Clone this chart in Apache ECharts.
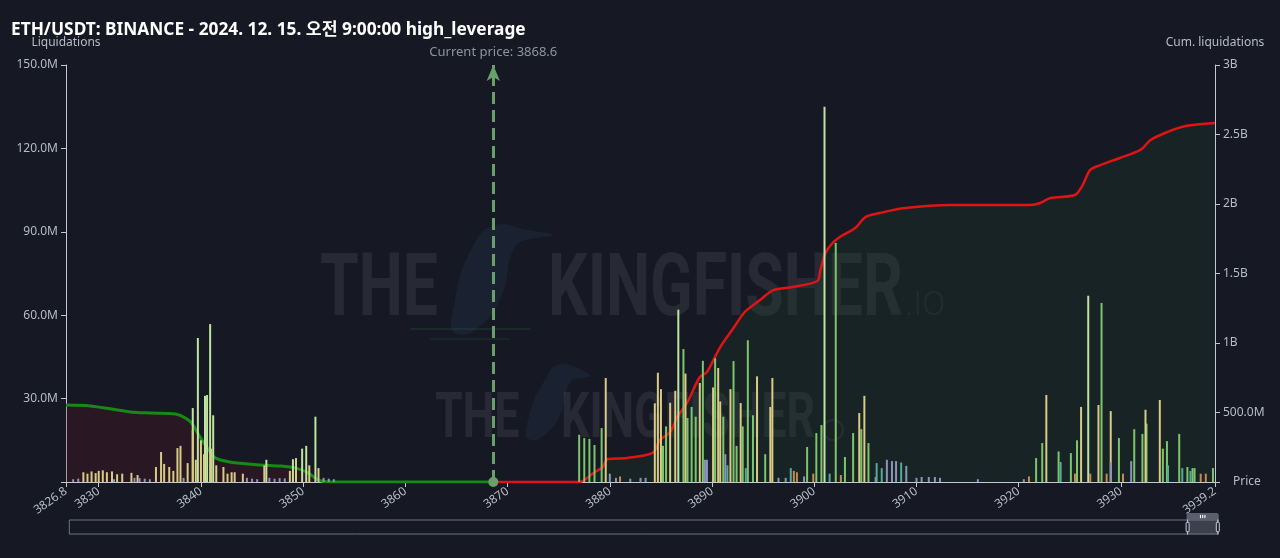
<!DOCTYPE html>
<html>
<head>
<meta charset="utf-8">
<style>
html,body{margin:0;padding:0;background:#161924;}
#chart{width:1280px;height:558px;}
</style>
<script src="https://cdn.jsdelivr.net/npm/echarts@6/dist/echarts.min.js"></script>
</head>
<body>
<div id="chart"></div>
<script>
// ---- data (prices in USDT, liquidations in millions USD) ----
const titleText = 'ETH/USDT: BINANCE - 2024. 12. 15. 오전 9:00:00 high_leverage';
const currentPrice = 3868.6;
const priceMin = 3826.8;
const priceMax = 3939.2;

const barsLightGreen = [
  [3839.2,26.6],[3839.7,51.8],[3840.4,31],[3840.6,31.3],[3840.9,56.8],[3841.2,24],
  [3846.4,8],[3849.0,8.2],[3849.9,12],[3850.3,13],[3851.2,23.5],
  [3886.7,62],[3901.0,135],[3926.8,67]
];
const barsGreen = [
  [3877.0,17],[3877.5,15.8],[3878.0,15.5],[3878.5,13.3],[3879.2,19.4],[3885.2,13],[3885.5,20],
  [3887.2,47.8],[3887.6,23],[3888.0,27],[3888.4,23.5],[3889.1,43.6],[3890.3,44.5],[3891.1,23.5],
  [3892.1,43.5],[3892.4,13],[3893.0,20],[3893.5,51],[3894.0,24],[3895.2,10],[3899.3,12.6],
  [3900.2,17.6],[3900.7,20.5],[3902.1,86],[3903.0,9],[3903.8,17.6],[3904.6,19],[3905.3,14],
  [3921.7,8.6],[3922.3,14],[3923.9,11],[3925.1,10.4],[3925.7,15],[3928.1,64.4],[3929.8,15.8],
  [3931.3,19],[3932.1,17.3],[3932.5,21],[3934.1,12],[3934.5,14.7],[3935.7,17.3],[3936.5,5.4],
  [3937.0,5],[3937.2,5],[3939.0,5]
];
const barsYellow = [
  [3828.5,3.5],[3828.9,3],[3829.3,3.8],[3829.7,3.2],[3830.0,4],[3830.4,4.2],[3830.8,3.5],
  [3831.3,3.8],[3831.8,2.8],[3832.3,3],[3833.2,3.3],[3833.8,2.5],[3835.6,5.4],[3836.1,10.8],
  [3836.4,6.5],[3836.9,5.4],[3837.3,4],[3837.7,12.2],[3838.0,13],[3838.7,6.8],[3839.2,18.7],
  [3839.5,8],[3840.0,15],[3840.3,10],[3841.0,12],[3841.5,6],[3842.2,5.4],[3842.6,3],[3843.0,3.5],
  [3843.3,3.5],[3844.1,3],[3846.2,6],[3848.7,4],[3849.3,8.6],[3850.6,6],[3851.5,5],
  [3879.6,37.4],[3884.4,28.3],[3884.7,39.3],[3885.0,33.4],[3885.9,28.5],[3886.4,32.8],[3887.4,39],
  [3888.8,35.6],[3890.1,34],[3890.6,41],[3890.8,29],[3891.8,33.4],[3892.8,28.4],[3894.4,38],
  [3895.7,27],[3895.9,37.4],[3904.4,24.8],[3904.9,31],[3922.7,31.3],[3926.1,27],[3927.8,27.7],
  [3929.0,25.5],[3932.4,26],[3933.8,29.5]
];
const barsOrange = [
  [3881.0,2],[3898.0,4],[3898.3,3.5],[3899.9,3],[3902.6,2.5],[3921.0,2],[3925.5,3],[3927.0,3],
  [3928.6,3],[3930.2,3],[3937.8,3],[3938.3,3]
];
const barsBlueGray = [
  [3827.5,1],[3828.0,1.2],[3831.5,1],[3833.5,1.5],[3834.0,1.4],[3834.5,1.2],[3835.0,1],[3838.3,1.5],
  [3844.5,1.5],[3845.0,1.2],[3845.5,1],[3846.7,1.5],[3847.2,1.2],[3847.7,1.4],[3848.2,1.3],
  [3852.0,1.5],[3852.5,1.2],[3853.0,1],[3880.0,3],[3880.6,1.5],[3882.0,1.2],[3883.0,1.5],
  [3883.5,1.5],[3889.3,8],[3889.5,8],[3891.3,10],[3896.5,1.5],[3897.2,1.5],[3899.0,2],[3906.0,1.8],
  [3907.1,8],[3907.6,7.5],[3908.0,7.5],[3909.0,5.8],[3910.0,1.5],[3910.5,1.8],[3911.2,1.8],
  [3911.8,1.8],[3912.3,1.5],[3916.0,1],[3920.5,1],[3929.0,7],[3931.0,7.5]
];
const barsTeal = [
  [3891.5,6],[3893.3,5],[3897.7,5],[3901.5,3],[3906.1,6.8],[3906.6,5],[3908.5,7],[3924.1,7.2],
  [3934.6,6],[3936.0,5],[3936.8,4]
];
// cumulative liquidations (millions) below and above current price
const cumShort = [
  [3826.8,554],[3829.2,547],[3833.1,504],[3835.0,496],[3837.5,489],[3838.9,439],[3839.4,388],
  [3839.9,324],[3840.9,216],[3841.4,173],[3842.8,144],[3845.8,122],[3847.7,115],[3849.3,100],
  [3850.5,65],[3851.5,14],[3852.6,0],[3868.6,0]
];
const cumLong = [
  [3868.6,0],[3877.0,0],[3878.4,65],[3879.3,108],[3879.8,165],[3881.7,173],[3884.2,209],
  [3884.9,302],[3885.9,360],[3886.6,468],[3887.6,576],[3888.8,755],[3889.5,791],[3890.8,971],
  [3892.1,1108],[3893.2,1223],[3894.7,1309],[3896.0,1381],[3897.9,1403],[3900.3,1446],
  [3900.6,1525],[3901.1,1647],[3901.7,1712],[3902.5,1762],[3904.0,1827],[3905.0,1906],
  [3906.4,1935],[3908.9,1971],[3913.3,1993],[3921.1,1993],[3922.1,2007],[3923.1,2043],
  [3925.5,2065],[3926.2,2129],[3927.0,2245],[3928.0,2280],[3929.9,2331],[3931.9,2389],
  [3932.9,2460],[3934.3,2511],[3936.3,2561],[3939.2,2583]
];

const chart = echarts.init(document.getElementById('chart'));
const axisColor = '#c3c7cf';
const labelColor = '#b7bbc4';
const font = "'Noto Sans', 'Noto Sans CJK KR', sans-serif";

function barSeries(name, data, color) {
  return {
    name, type: 'bar', data, xAxisIndex: 0, yAxisIndex: 0,
    barWidth: 2, barGap: '-100%', itemStyle: { color }, silent: true, z: 3
  };
}
const fmtLeft = v => v === 0 ? '' : v.toFixed(1) + 'M';
const fmtRight = v => v === 0 ? '' : (v >= 1000 ? (v / 1000) + 'B' : v.toFixed(1) + 'M');
const fmtPrice = v => String(Math.round(v * 10) / 10);

const wm = 'rgba(255,255,255,0.075)';
const bird = 'rgba(45,85,120,0.17)';
const option = {
  backgroundColor: '#161924',
  animation: false,
  textStyle: { fontFamily: font },
  title: {
    text: titleText, left: 6, top: 16,
    textStyle: { color: '#ffffff', fontSize: 17.3, fontWeight: 'bold', fontFamily: font }
  },
  grid: { left: 66, right: 65, top: 65, bottom: 76 },
  graphic: [
    { type: 'polygon', z: 0, silent: true,
      shape: { points: [[470,252],[484,230],[503,224],[522,229],[553,235],[520,242],[510,258],[505,286],[492,314],[468,334],[452,331],[455,300],[461,272]], smooth: 0.3 },
      style: { fill: bird } },
    { type: 'rect', z: 0, silent: true, shape: { x: 410, y: 328, width: 120, height: 2 }, style: { fill: 'rgba(40,90,60,0.25)' } },
    { type: 'rect', z: 0, silent: true, shape: { x: 430, y: 338, width: 80, height: 2 }, style: { fill: 'rgba(40,90,60,0.2)' } },
    { type: 'polygon', z: 0, silent: true,
      shape: { points: [[545,380],[553,367],[565,364],[578,368],[590,376],[572,380],[566,392],[562,410],[552,428],[536,440],[526,437],[529,416],[535,398]], smooth: 0.3 },
      style: { fill: bird } },
    { type: 'text', x: 320, y: 293, scaleX: 0.71, z: 0, silent: true,
      style: { text: 'THE', fill: wm, font: "bold 88px Roboto", verticalAlign: 'middle' } },
    { type: 'text', x: 548, y: 293, scaleX: 0.71, z: 0, silent: true,
      style: { text: 'KINGFISHER', fill: wm, font: "bold 88px Roboto", verticalAlign: 'middle' } },
    { type: 'text', x: 905, y: 306, z: 0, silent: true,
      style: { text: '.IO', fill: 'rgba(255,255,255,0.06)', font: "300 34px Roboto", verticalAlign: 'middle' } },
    { type: 'text', x: 435, y: 421, scaleX: 0.71, z: 0, silent: true,
      style: { text: 'THE', fill: wm, font: "bold 63px Roboto", verticalAlign: 'middle' } },
    { type: 'text', x: 561, y: 421, scaleX: 0.71, z: 0, silent: true,
      style: { text: 'KINGFISHER', fill: wm, font: "bold 63px Roboto", verticalAlign: 'middle' } },
    { type: 'circle', shape: { cx: 833, cy: 430, r: 10 }, z: 0, silent: true,
      style: { fill: 'none', stroke: 'rgba(255,255,255,0.07)', lineWidth: 2 } }
  ],
  xAxis: [
    {
      type: 'value', min: priceMin, max: priceMax, splitNumber: 12,
      minInterval: 10, maxInterval: 10,
      name: 'Price', nameLocation: 'end', nameGap: 18,
      nameTextStyle: { color: labelColor, fontSize: 12, verticalAlign: 'middle' },
      axisLine: { lineStyle: { color: axisColor } },
      axisTick: { show: true, lineStyle: { color: axisColor } },
      axisLabel: { color: labelColor, fontSize: 12, rotate: 35, showMinLabel: true, showMaxLabel: true, formatter: fmtPrice },
      splitLine: { show: false }
    },
    { type: 'value', min: 0, max: 100, show: false }
  ],
  yAxis: [
    {
      type: 'value', min: 0, max: 150, interval: 30, position: 'left',
      name: 'Liquidations', nameLocation: 'end', nameGap: 16,
      nameTextStyle: { color: labelColor, fontSize: 12, align: 'center' },
      axisLine: { show: true, lineStyle: { color: axisColor } },
      axisTick: { show: true, lineStyle: { color: axisColor } },
      axisLabel: { color: labelColor, fontSize: 12, formatter: fmtLeft },
      splitLine: { show: false }
    },
    {
      type: 'value', min: 0, max: 3000, interval: 500, position: 'right',
      name: 'Cum. liquidations', nameLocation: 'end', nameGap: 16,
      nameTextStyle: { color: labelColor, fontSize: 12, align: 'center' },
      axisLine: { show: true, lineStyle: { color: axisColor } },
      axisTick: { show: true, lineStyle: { color: axisColor } },
      axisLabel: { color: labelColor, fontSize: 12, formatter: fmtRight },
      splitLine: { show: false }
    }
  ],
  dataZoom: [{
    type: 'slider', xAxisIndex: 1, start: 97.2, end: 100,
    left: 66, right: 64, bottom: 30, height: 15,
    showDetail: false, showDataShadow: false,
    backgroundColor: 'rgba(0,0,0,0)', borderColor: '#6f7483',
    fillerColor: 'rgba(150,155,170,0.3)',
    handleStyle: { color: '#1c1f2a', borderColor: '#c9ccd4' },
    moveHandleSize: 7,
    moveHandleStyle: { color: '#5a5f6e', opacity: 1 }
  }],
  series: [
    {
      name: 'Cum. short', type: 'line', data: cumShort, xAxisIndex: 0, yAxisIndex: 1,
      symbol: 'none', smooth: 0.3, z: 2,
      lineStyle: { color: '#158a15', width: 3 },
      areaStyle: { color: 'rgba(92,22,32,0.38)', origin: 'start' }
    },
    {
      name: 'Cum. long', type: 'line', data: cumLong, xAxisIndex: 0, yAxisIndex: 1,
      symbol: 'none', smooth: 0.3, z: 2,
      lineStyle: { color: '#e01414', width: 2.5 },
      areaStyle: { color: 'rgba(28,70,40,0.32)', origin: 'start' },
      markLine: {
        silent: true, symbol: ['circle', 'arrow'], symbolSize: [10, 16],
        lineStyle: { color: '#69a06a', type: 'dashed', width: 3 },
        label: { show: true, position: 'end', formatter: 'Current price: ' + currentPrice,
                 color: '#8e939d', fontSize: 13, distance: 6 },
        data: [[{ coord: [currentPrice, 0] }, { coord: [currentPrice, 3000] }]]
      }
    },
    barSeries('100x', barsLightGreen, '#bfe3a0'),
    barSeries('50x', barsGreen, '#7dc56d'),
    barSeries('25x', barsYellow, '#d8cb85'),
    barSeries('10x', barsOrange, '#c88852'),
    barSeries('5x', barsBlueGray, '#8c94b8'),
    barSeries('3x', barsTeal, '#5aa896'),
    {
      name: 'zoomProxy', type: 'line', data: [[0, 0], [100, 0]], xAxisIndex: 1, yAxisIndex: 0,
      symbol: 'none', lineStyle: { opacity: 0 }, silent: true, z: 0
    }
  ]
};
chart.setOption(option);
</script>
</body>
</html>
